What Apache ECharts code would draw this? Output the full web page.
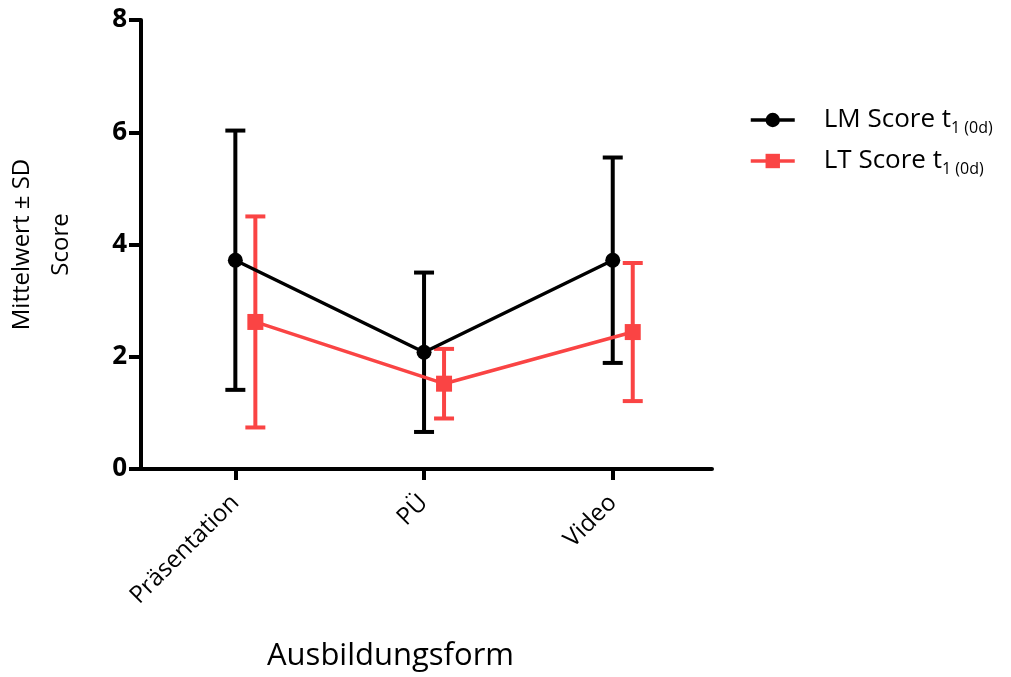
<!DOCTYPE html>
<html><head><meta charset="utf-8">
<script src="https://cdn.jsdelivr.net/npm/echarts@6/dist/echarts.min.js"></script>
<style>html,body{margin:0;padding:0;background:#fff}#c{width:1011px;height:677px}</style>
</head><body><div id="c"></div>
<script>
const categories = ['Präsentation', 'PÜ', 'Video'];
const lmMean = [3.72, 2.08, 3.72];
const lmSD   = [2.31, 1.42, 1.83];
const ltMean = [2.62, 1.52, 2.44];
const ltSD   = [1.88, 0.62, 1.23];
const yTicks = [0, 2, 4, 6, 8];
const seriesNames = ['LM Score t1 (0d)', 'LT Score t1 (0d)'];
const BLACK = '#000000', RED = '#fa4444';
const FONT = '"Open Sans", "Noto Sans", sans-serif';
const ltOffset = 0.106;

const catPos = categories.map((c, i) => i + 0.5);
const lmPts = lmMean.map((m, i) => [catPos[i], m]);
const ltPts = ltMean.map((m, i) => [catPos[i] + ltOffset, m]);
const lmErr = lmMean.map((m, i) => [catPos[i], m - lmSD[i], m + lmSD[i]]);
const ltErr = ltMean.map((m, i) => [catPos[i] + ltOffset, m - ltSD[i], m + ltSD[i]]);

function errRender(color) {
  return function (params, api) {
    const x = api.value(0), lo = api.value(1), hi = api.value(2);
    const t = api.coord([x, hi]), b = api.coord([x, lo]);
    const hw = 10;
    const st = { stroke: color, lineWidth: 4 };
    return { type: 'group', children: [
      { type: 'line', shape: { x1: t[0], y1: t[1], x2: b[0], y2: b[1] }, style: st },
      { type: 'line', shape: { x1: t[0] - hw, y1: t[1], x2: t[0] + hw, y2: t[1] }, style: st },
      { type: 'line', shape: { x1: b[0] - hw, y1: b[1], x2: b[0] + hw, y2: b[1] }, style: st }
    ]};
  };
}

const chart = echarts.init(document.getElementById('c'));
chart.setOption({
  animation: false,
  backgroundColor: '#fff',
  grid: { left: 141, right: 299, top: 20, bottom: 208, containLabel: false, outerBoundsMode: 'none' },
  title: {
    text: 'Ausbildungsform', left: 262, top: 636,
    textStyle: { fontFamily: FONT, fontSize: 31, fontWeight: 'normal', color: '#000' }
  },
  legend: {
    data: seriesNames, orient: 'vertical', left: 744, top: 102,
    itemWidth: 44, itemHeight: 18, itemGap: 12,
    lineStyle: { width: 3.5 },
    formatter: function (n) {
      const p = n.split(' ');
      return '{m|' + p[0] + ' ' + p[1] + ' t}{s|1 ' + p[3] + '}';
    },
    textStyle: {
      fontFamily: FONT, color: '#000', padding: [0, 0, 0, 24],
      rich: {
        m: { fontFamily: FONT, fontSize: 26, color: '#000', lineHeight: 32 },
        s: { fontFamily: FONT, fontSize: 16, color: '#000', lineHeight: 32, verticalAlign: 'bottom', padding: [2, 0, 0, 0] }
      }
    }
  },
  xAxis: {
    type: 'value', min: 0, max: 3.026,
    splitLine: { show: false },
    axisLine: { show: true, onZero: false, lineStyle: { color: '#000', width: 4 } },
    axisTick: { show: true, customValues: catPos, length: 11, lineStyle: { color: '#000', width: 4 } },
    axisLabel: {
      customValues: catPos, rotate: 45, margin: 30,
      fontFamily: FONT, fontSize: 24, color: '#000',
      formatter: function (v) { return categories[Math.round(v - 0.5)]; }
    }
  },
  yAxis: {
    type: 'value', min: yTicks[0], max: yTicks[yTicks.length - 1], interval: 2,
    splitLine: { show: false },
    axisLine: { show: true, lineStyle: { color: '#000', width: 4 } },
    axisTick: { show: true, length: 12, lineStyle: { color: '#000', width: 4 } },
    axisLabel: { fontFamily: FONT, fontSize: 26, fontWeight: 'bold', color: '#000', margin: 14 },
    name: 'Mittelwert ± SD\nScore', nameLocation: 'middle', nameGap: 60, nameRotate: 90,
    nameTextStyle: { fontFamily: FONT, fontSize: 24, color: '#000', lineHeight: 39 }
  },
  series: [
    { type: 'custom', name: 'lmErr', data: lmErr, renderItem: errRender(BLACK), z: 2, encode: { x: 0, y: [1, 2] } },
    { type: 'custom', name: 'ltErr', data: ltErr, renderItem: errRender(RED), z: 2, encode: { x: 0, y: [1, 2] } },
    { type: 'line', name: seriesNames[0], data: lmPts, symbol: 'circle', symbolSize: 15,
      itemStyle: { color: BLACK }, lineStyle: { color: BLACK, width: 3.5 }, z: 3 },
    { type: 'line', name: seriesNames[1], data: ltPts, symbol: 'rect', symbolSize: 16,
      itemStyle: { color: RED }, lineStyle: { color: RED, width: 3.5 }, z: 3 }
  ]
});
</script></body></html>
